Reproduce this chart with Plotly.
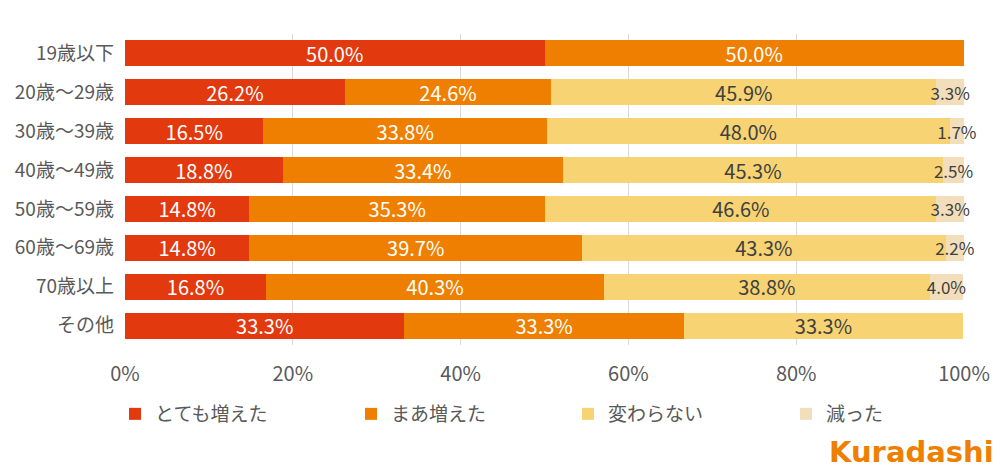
import plotly.graph_objects as go

categories = ["19歳以下", "20歳～29歳", "30歳～39歳", "40歳～49歳", "50歳～59歳", "60歳～69歳", "70歳以上", "その他"]
series_names = ["とても増えた", "まあ増えた", "変わらない", "減った"]
very_increased = [50.0, 26.2, 16.5, 18.8, 14.8, 14.8, 16.8, 33.3]
somewhat_increased = [50.0, 24.6, 33.8, 33.4, 35.3, 39.7, 40.3, 33.3]
unchanged = [None, 45.9, 48.0, 45.3, 46.6, 43.3, 38.8, 33.3]
decreased = [None, 3.3, 1.7, 2.5, 3.3, 2.2, 4.0, None]
tick_vals = [0, 20, 40, 60, 80, 100]
tick_text = ["0%", "20%", "40%", "60%", "80%", "100%"]

colors = ["#E2390F", "#EE7F00", "#F7D373", "#F2DEBA"]
text_colors = ["white", "white", "#404040", "#404040"]
text_sizes = [20, 20, 20, 17]
series = [very_increased, somewhat_increased, unchanged, decreased]

# page body has an 8px margin; figure coordinates below are page pixels minus 8
OFF = 8
W, H = 1004 - OFF, 473 - OFF
legend_left_px = [115 - OFF, 351 - OFF, 568 - OFF, 786 - OFF]
FONT = "Noto Sans CJK JP"

fig = go.Figure()
for i, (name, vals, col, tc, ts) in enumerate(zip(series_names, series, colors, text_colors, text_sizes)):
    lg = "legend" if i == 0 else f"legend{i+1}"
    fig.add_trace(go.Bar(
        y=categories, x=vals, name=name, orientation="h",
        marker=dict(color=col, line=dict(width=0)),
        text=[f"{v:.1f}%" if v is not None else "" for v in vals],
        textposition="inside", insidetextanchor="middle",
        constraintext="none", textangle=0, cliponaxis=False,
        textfont=dict(color=tc, size=ts, family=FONT),
        hoverinfo="skip", legend=lg,
    ))

legend_common = dict(orientation="h", xref="container", yref="container",
                     xanchor="left", yanchor="middle", y=1 - (414 - OFF) / H,
                     font=dict(size=19, color="#595959", family=FONT),
                     itemwidth=30, bgcolor="rgba(0,0,0,0)", borderwidth=0)
legends = {}
for i, px in enumerate(legend_left_px):
    key = "legend" if i == 0 else f"legend{i+1}"
    legends[key] = dict(legend_common, x=px / W)

plot_l, plot_r, plot_t, plot_b = 125 - OFF, 964 - OFF, 34 - OFF, 345 - OFF
pw, ph = plot_r - plot_l, plot_b - plot_t
logo_x, logo_y = 827 - OFF, 471 - OFF
fig.update_layout(
    barmode="stack", bargap=0.33,
    width=W, height=H,
    margin=dict(l=plot_l, r=W - plot_r, t=plot_t, b=H - plot_b),
    plot_bgcolor="white", paper_bgcolor="white",
    font=dict(family=FONT, color="#595959"),
    xaxis=dict(range=[0, 100], tickvals=tick_vals, ticktext=tick_text,
               showgrid=True, gridcolor="#D9D9D9", gridwidth=1,
               zeroline=False, showline=False, automargin=False,
               tickfont=dict(size=20, color="#595959"), ticks="", ticklabelstandoff=15),
    yaxis=dict(autorange="reversed", showgrid=False, zeroline=False, showline=False,
               automargin=False,
               tickfont=dict(size=19, color="#595959"), ticks="", ticklabelstandoff=10),
    showlegend=True,
    annotations=[dict(text="<b>Kuradashi</b>", xref="paper", yref="paper",
                      x=(logo_x - plot_l) / pw, y=(plot_b - logo_y) / ph,
                      xanchor="left", yanchor="bottom", showarrow=False,
                      font=dict(size=29, color="#EE7F00", family="DejaVu Sans"))],
    **legends,
)

fig.write_html("out.html")
